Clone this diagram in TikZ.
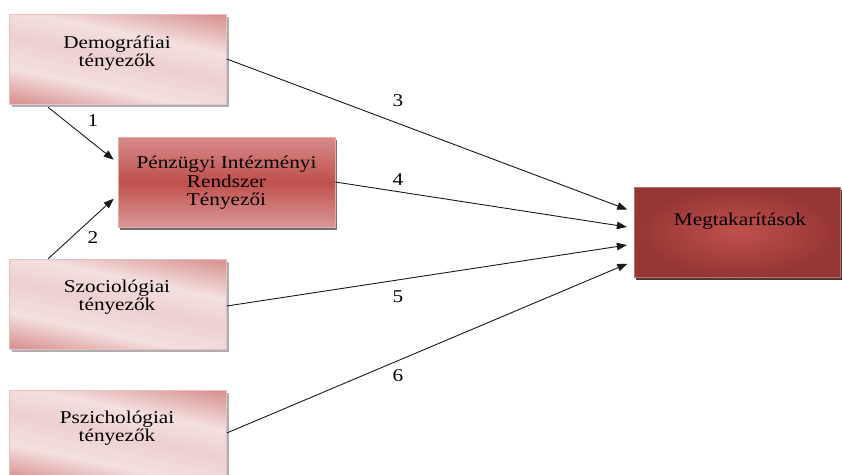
\documentclass[tikz,border=0pt]{standalone}
\usepackage{fontspec}
\setmainfont[FakeStretch=1.18]{Liberation Serif}
\usetikzlibrary{arrows.meta,shadows,calc}
\definecolor{pdark}{HTML}{D99694}
\definecolor{plight}{HTML}{F3E0DF}
\definecolor{pmid}{HTML}{EDD0CF}
\definecolor{rmid}{HTML}{C0504D}
\definecolor{rtop}{HTML}{D68C8A}
\definecolor{rbot}{HTML}{DA9896}
\definecolor{mdark}{HTML}{943634}
\definecolor{minner}{HTML}{C0504D}
\pgfdeclarehorizontalshading{lightpink}{100bp}{color(0bp)=(pdark); color(22bp)=(pdark); color(36bp)=(plight); color(50bp)=(pmid); color(62bp)=(plight); color(78bp)=(pdark); color(100bp)=(pdark)}
\tikzset{
  lightbox/.style={rectangle, minimum width=217pt, minimum height=90pt, inner sep=0pt,
    shading=lightpink, shading angle=78, draw=pdark!60, line width=0.6pt,
    drop shadow={shadow xshift=2pt, shadow yshift=-2.5pt, fill=black!45, opacity=0.7}},
  redbox/.style={rectangle, minimum width=217pt, minimum height=90pt, inner sep=0pt,
    top color=rtop, bottom color=rbot, middle color=rmid, draw=pdark!80, line width=0.6pt,
    drop shadow={shadow xshift=2pt, shadow yshift=-2.5pt, fill=black!70, opacity=0.8}},
  darkbox/.style={rectangle, minimum width=206pt, minimum height=90pt, inner sep=0pt,
    inner color=minner, outer color=mdark, draw=mdark!70, line width=0.4pt,
    drop shadow={shadow xshift=2pt, shadow yshift=-2.5pt, fill=black!80!red, opacity=0.8}},
  boxtext/.style={align=center, inner sep=0pt, font=\fontsize{18}{18.5}\selectfont, text=black},
  numlabel/.style={inner sep=0pt, font=\fontsize{18}{18.5}\selectfont},
  conn/.style={draw=black!90, line width=0.9pt, -{Triangle[length=10pt,width=7.5pt]}}
}
\begin{document}
\begin{tikzpicture}[x=1pt,y=-1pt]
\useasboundingbox (0,0) rectangle (842,474);
% boxes
\node[lightbox] (demo) at (118,59) {};
\node[redbox] (penz) at (226.5,182) {};
\node[lightbox] (szoc) at (118,304) {};
\node[lightbox] (pszi) at (118,435) {};
\node[darkbox] (megt) at (737,232) {};
% texts
\node[boxtext] (demot) at (117,53) {Demográfiai\\tényezők};
\node[boxtext] (penzt) at (226.5,183) {Pénzügyi Intézményi\\Rendszer\\Tényezői};
\node[boxtext] (szoct) at (117,297) {Szociológiai\\tényezők};
\node[boxtext] (pszit) at (117,428) {Pszichológiai\\tényezők};
\node[boxtext] (megtt) at (740,221) {Megtakarítások};
% connectors
\coordinate (s1) at ($(demo.south west)+(39,3)$);
\coordinate (e1) at ($(penz.north west)+(-4,23)$);
\coordinate (s2) at ($(szoc.north west)+(39,0)$);
\coordinate (e2) at ($(penz.north west)+(-4,62)$);
\draw[conn] (s1) -- (e1);
\draw[conn] (s2) -- (e2);
\draw[conn, shorten >=7pt] (demo.east) -- ($(megt.west)+(0,-20)$);
\draw[conn, shorten >=7pt] (penz.east) -- ($(megt.west)+(0,-4)$);
\draw[conn, shorten >=7pt] ($(szoc.east)+(0,2)$) -- ($(megt.west)+(0,12)$);
\draw[conn, shorten >=7pt] ($(pszi.east)+(0,-2)$) -- ($(megt.west)+(0,29)$);
% labels
\node[numlabel] (l1) at (93,121) {1};
\node[numlabel] (l2) at (93,238) {2};
\node[numlabel] (l3) at (398,101) {3};
\node[numlabel] (l4) at (398,180) {4};
\node[numlabel] (l5) at (398,297) {5};
\node[numlabel] (l6) at (398,376) {6};
\end{tikzpicture}
\end{document}
